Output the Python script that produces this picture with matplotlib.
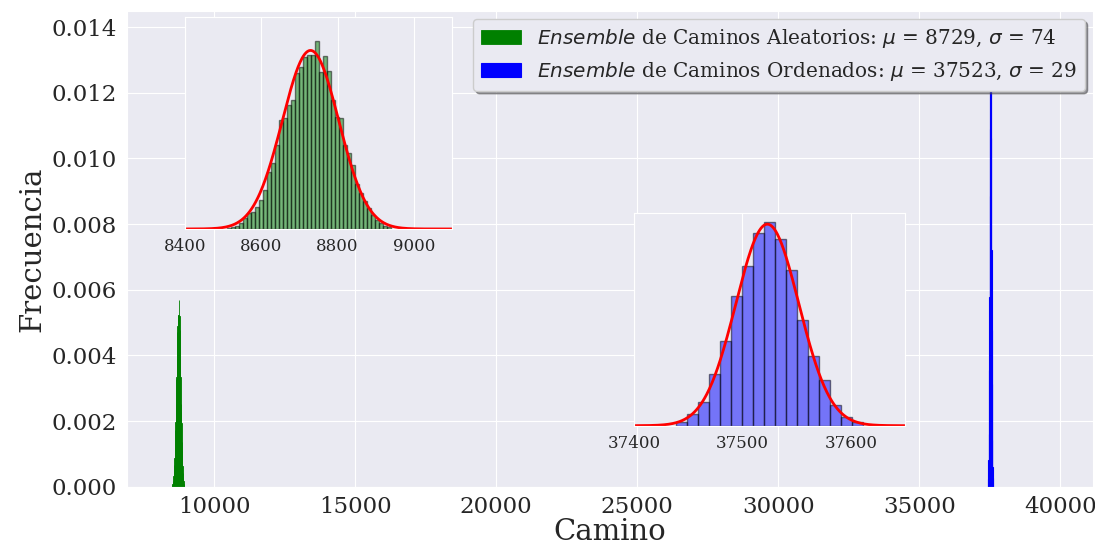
"""Histogramas de longitud de camino: ensembles aleatorio y ordenado."""
import matplotlib
matplotlib.use("Agg")
import matplotlib.pyplot as plt
import numpy as np
import seaborn as sns

# ── Datos ─────────────────────────────────────────────────────────────────────
# ensemble aleatorio (densidad x 1e-3), bins regulares
ALEAT_START = 8510.0
ALEAT_WIDTH = 10.5
ALEAT_DENS = [0.04, 0.07, 0.09, 0.18, 0.33, 0.48, 0.52, 0.67, 0.87, 1.17,
              1.73, 1.98, 2.53, 3.28, 3.34, 3.73, 3.89, 4.70, 4.89, 5.19,
              5.24, 5.24, 5.69, 4.74, 5.21, 4.77, 3.89, 3.38, 3.34, 2.53,
              2.29, 1.93, 1.36, 1.08, 0.85, 0.63, 0.42, 0.27, 0.18, 0.09,
              0.07]
ALEAT_MU, ALEAT_SIGMA = 8729, 74

# ensemble ordenado (densidad x 1e-3)
ORDEN_START = 37439.2
ORDEN_WIDTH = 10.1
ORDEN_DENS = [0.23, 0.82, 1.60, 3.55, 5.79, 8.84, 10.89, 13.12, 13.89, 12.71,
              10.61, 7.22, 4.76, 3.14, 1.41, 0.59, 0.27]
ORDEN_MU, ORDEN_SIGMA = 37523, 29

LABEL_ALEAT = (r"$\it{Ensemble}$ de Caminos Aleatorios: "
               rf"$\mu$ = {ALEAT_MU}, $\sigma$ = {ALEAT_SIGMA}")
LABEL_ORDEN = (r"$\it{Ensemble}$ de Caminos Ordenados: "
               rf"$\mu$ = {ORDEN_MU}, $\sigma$ = {ORDEN_SIGMA}")


def _bins(start, width, dens):
    dens = np.asarray(dens) * 1e-3
    lefts = start + width * np.arange(len(dens))
    return lefts, dens


def _gauss(x, mu, sigma):
    return np.exp(-0.5 * ((x - mu) / sigma) ** 2) / (sigma * np.sqrt(2 * np.pi))


def _inset(fig, rect, lefts, dens, width, color, mu, sigma, xlim, ylim, xticks):
    ax = fig.add_axes(rect)
    ax.bar(lefts, dens, width=width, align="edge", color=color, alpha=0.5,
           edgecolor="black", linewidth=1.0)
    xs = np.linspace(xlim[0], xlim[1], 400)
    ax.plot(xs, _gauss(xs, mu, sigma), color="red", lw=2)
    ax.set_xlim(*xlim)
    ax.set_ylim(*ylim)
    ax.set_xticks(xticks)
    ax.set_yticks([])
    ax.tick_params(axis="x", labelsize=12, pad=3)
    return ax


def main():
    sns.set_style("darkgrid")
    plt.rcParams["font.family"] = "serif"
    plt.rcParams["mathtext.fontset"] = "dejavusans"

    fig = plt.figure(figsize=(10.95, 5.47), dpi=100)
    ax = fig.add_axes([0.1157, 0.1102, 0.8823, 0.8697])

    a_left, a_dens = _bins(ALEAT_START, ALEAT_WIDTH, ALEAT_DENS)
    o_left, o_dens = _bins(ORDEN_START, ORDEN_WIDTH, ORDEN_DENS)

    ax.bar(a_left, a_dens, width=ALEAT_WIDTH, align="edge", color="green",
           edgecolor="green", linewidth=0.6, label=LABEL_ALEAT)
    ax.bar(o_left, o_dens, width=ORDEN_WIDTH, align="edge", color="blue",
           edgecolor="blue", linewidth=0.8, label=LABEL_ORDEN)

    ax.set_xlim(6900, 41150)
    ax.set_ylim(0, 0.01449)
    ax.set_xticks([10000, 15000, 20000, 25000, 30000, 35000, 40000])
    ax.set_yticks(np.arange(0, 0.0141, 0.002))
    ax.yaxis.set_major_formatter(matplotlib.ticker.FormatStrFormatter("%.3f"))
    ax.tick_params(labelsize=16.5)
    ax.set_xlabel("Camino", fontsize=21, labelpad=0)
    ax.set_ylabel("Frecuencia", fontsize=21)

    ax.legend(loc="upper right", fontsize=14.4, shadow=True, frameon=True,
              handlelength=2.0, borderaxespad=0.4)

    _inset(fig, [0.169, 0.5814, 0.2438, 0.3875], a_left, a_dens, ALEAT_WIDTH,
           "green", ALEAT_MU, ALEAT_SIGMA, (8400, 9100), (0, 0.0064),
           [8400, 8600, 8800, 9000])
    _inset(fig, [0.579, 0.2218, 0.2475, 0.3883], o_left, o_dens, ORDEN_WIDTH,
           "blue", ORDEN_MU, ORDEN_SIGMA, (37400, 37650), (0, 0.0145),
           [37400, 37500, 37600])

    fig.savefig("out.png", dpi=100)


if __name__ == "__main__":
    main()
